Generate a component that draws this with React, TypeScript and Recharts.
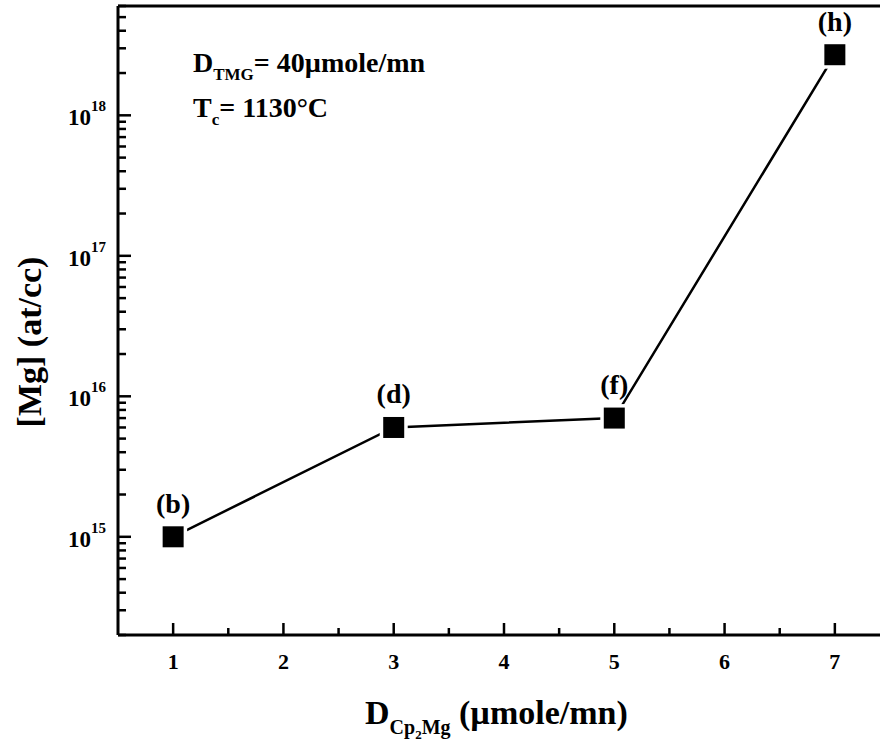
import { Customized, Line, LineChart, XAxis, YAxis } from 'recharts'

// measured values
const xValues = [1, 3, 5, 7]
const mgConc = [1e15, 6e15, 7e15, 2.7e18]
const pointLabels = ['(b)', '(d)', '(f)', '(h)']

const xMajorTicks = [1, 2, 3, 4, 5, 6, 7]
const xMinorTicks = [1.5, 2.5, 3.5, 4.5, 5.5, 6.5, 7.5]
const yDecades = [1e14, 1e15, 1e16, 1e17, 1e18]
const yMantissas = [1, 2, 3, 4, 5, 6, 7, 8, 9]
const yDomain = [2e14, 6e18]
const yExponents: Record<string, string> = { '1e+15': '15', '1e+16': '16', '1e+17': '17', '1e+18': '18' }

const data = xValues.map((x, i) => ({ x, mg: mgConc[i], label: pointLabels[i] }))
const xTicks = [...xMajorTicks, ...xMinorTicks].sort((a, b) => a - b)
const yTicks = yDecades
  .flatMap((d) => yMantissas.map((m) => m * d))
  .filter((v) => v >= yDomain[0] * 0.999 && v <= yDomain[1] * 1.001)

const font = '"Liberation Serif", "Times New Roman", serif'

// plot frame (follows from the chart margins below)
const margin = { top: 5, right: 10, bottom: 109, left: 117 }
const chartW = 900
const chartH = 745
const axisX = margin.left + 1
const axisY = chartH - margin.bottom - 1

function XTick(props: any) {
  const { payload } = props
  const x = payload.coordinate
  const major = Number.isInteger(payload.value)
  return (
    <g>
      <line x1={x} x2={x} y1={axisY} y2={axisY - (major ? 12 : 7)} stroke="#000" strokeWidth={2.5} />
      {major && (
        <text x={x} y={axisY + 34} textAnchor="middle" fontFamily={font} fontWeight="bold" fontSize={22} fill="#000">
          {payload.value}
        </text>
      )}
    </g>
  )
}

function YTick(props: any) {
  const { payload } = props
  const y = payload.coordinate
  const exp = yExponents[Number(payload.value).toExponential()]
  const major = exp !== undefined
  return (
    <g>
      <line x1={axisX} x2={axisX + (major ? 13 : 8)} y1={y} y2={y} stroke="#000" strokeWidth={2.5} />
      {major && (
        <text x={axisX - 12} y={y + 10} textAnchor="end" fontFamily={font} fontWeight="bold" fontSize={23} fill="#000">
          10<tspan dy={-14} fontSize={15}>{exp}</tspan>
        </text>
      )}
    </g>
  )
}

function SquareDot(props: any) {
  const { cx, cy, payload } = props
  if (cx == null || cy == null) return null
  return (
    <g>
      <rect x={cx - 14} y={cy - 14} width={28} height={28} fill="#fff" />
      <rect x={cx - 10.5} y={cy - 10.5} width={21} height={21} fill="#000" />
      <text x={cx} y={cy - 24} textAnchor="middle" fontFamily={font} fontWeight="bold" fontSize={28} fill="#000">
        {payload.label}
      </text>
    </g>
  )
}

function Annotations() {
  return (
    <g fontFamily={font} fontWeight="bold" fill="#000">
      <text x={193} y={72} fontSize={28}>
        D<tspan dy={8} fontSize={17}>TMG</tspan>
        <tspan dy={-8}>= 40µmole/mn</tspan>
      </text>
      <text x={193} y={117} fontSize={28}>
        T<tspan dy={8} fontSize={17}>c</tspan>
        <tspan dy={-8}>= 1130°C</tspan>
      </text>
      <text transform="translate(41, 342) rotate(-90)" textAnchor="middle" fontSize={34}>
        [Mg] (at/cc)
      </text>
      <text x={365} y={724} fontSize={34}>
        D<tspan dy={10} fontSize={20}>Cp</tspan>
        <tspan dy={5} fontSize={13}>2</tspan>
        <tspan dy={-5} fontSize={20}>Mg</tspan>
        <tspan dy={-10}> (µmole/mn)</tspan>
      </text>
    </g>
  )
}

export default function App() {
  return (
    <div style={{ position: 'absolute', left: 0, top: 0, width: 880, height: 745, overflow: 'hidden', background: '#fff' }}>
      <LineChart width={chartW} height={chartH} data={data} margin={margin}>
        <XAxis
          xAxisId="top"
          orientation="top"
          dataKey="x"
          type="number"
          domain={[0.5, 7.5]}
          height={1}
          tick={false}
          tickLine={false}
          axisLine={{ stroke: '#000', strokeWidth: 3 }}
        />
        <XAxis
          dataKey="x"
          type="number"
          domain={[0.5, 7.5]}
          ticks={xTicks}
          interval={0}
          height={1}
          tickLine={false}
          tick={<XTick />}
          axisLine={{ stroke: '#000', strokeWidth: 3 }}
        />
        <YAxis
          dataKey="mg"
          scale="log"
          type="number"
          domain={yDomain}
          allowDataOverflow
          ticks={yTicks}
          interval={0}
          width={1}
          tickLine={false}
          tick={<YTick />}
          axisLine={{ stroke: '#000', strokeWidth: 3 }}
        />
        <Line
          dataKey="mg"
          stroke="#000"
          strokeWidth={2.5}
          dot={<SquareDot />}
          activeDot={false}
          isAnimationActive={false}
        />
        <Customized component={<Annotations />} />
      </LineChart>
    </div>
  )
}
